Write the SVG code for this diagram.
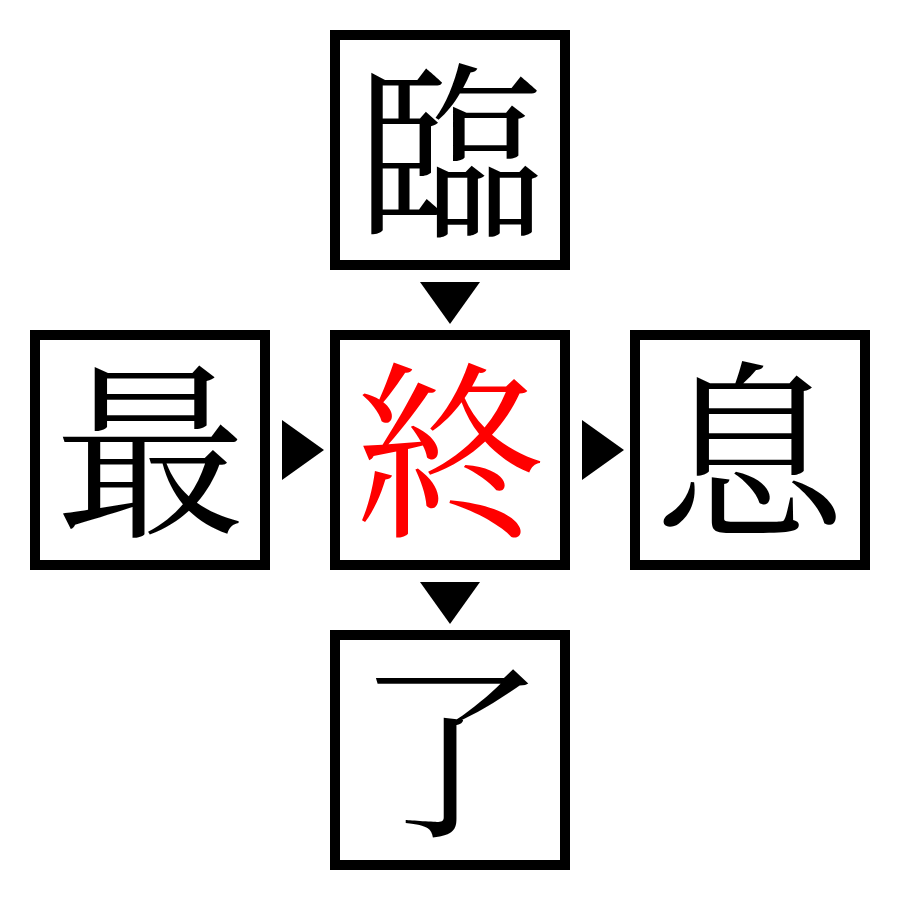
<svg xmlns="http://www.w3.org/2000/svg" width="900" height="900" viewBox="0 0 900 900">
<style>
.box{fill:#fff;stroke:#000;stroke-width:10}
.ch{font-family:"Noto Serif CJK JP","Noto Sans CJK JP",serif;font-size:190px;text-anchor:middle;dominant-baseline:central;fill:#000}
.red{fill:#ff0000}
.arr{fill:#000}
</style>
<rect width="900" height="900" fill="#fff"/>
<g id="connectors">
<polygon class="arr" points="420,282 480,282 450,324"/>
<polygon class="arr" points="282,420 282,480 324,450"/>
<polygon class="arr" points="582,420 582,480 624,450"/>
<polygon class="arr" points="420,582 480,582 450,624"/>
</g>
<g id="node-top"><rect class="box" x="335" y="35" width="230" height="230"/><text class="ch" x="450" y="139">臨</text></g>
<g id="node-left"><rect class="box" x="35" y="335" width="230" height="230"/><text class="ch" x="150" y="439">最</text></g>
<g id="node-center"><rect class="box" x="335" y="335" width="230" height="230"/><text class="ch red" x="450" y="439">終</text></g>
<g id="node-right"><rect class="box" x="635" y="335" width="230" height="230"/><text class="ch" x="750" y="439">息</text></g>
<g id="node-bottom"><rect class="box" x="335" y="635" width="230" height="230"/><text class="ch" x="450" y="739">了</text></g>
</svg>
